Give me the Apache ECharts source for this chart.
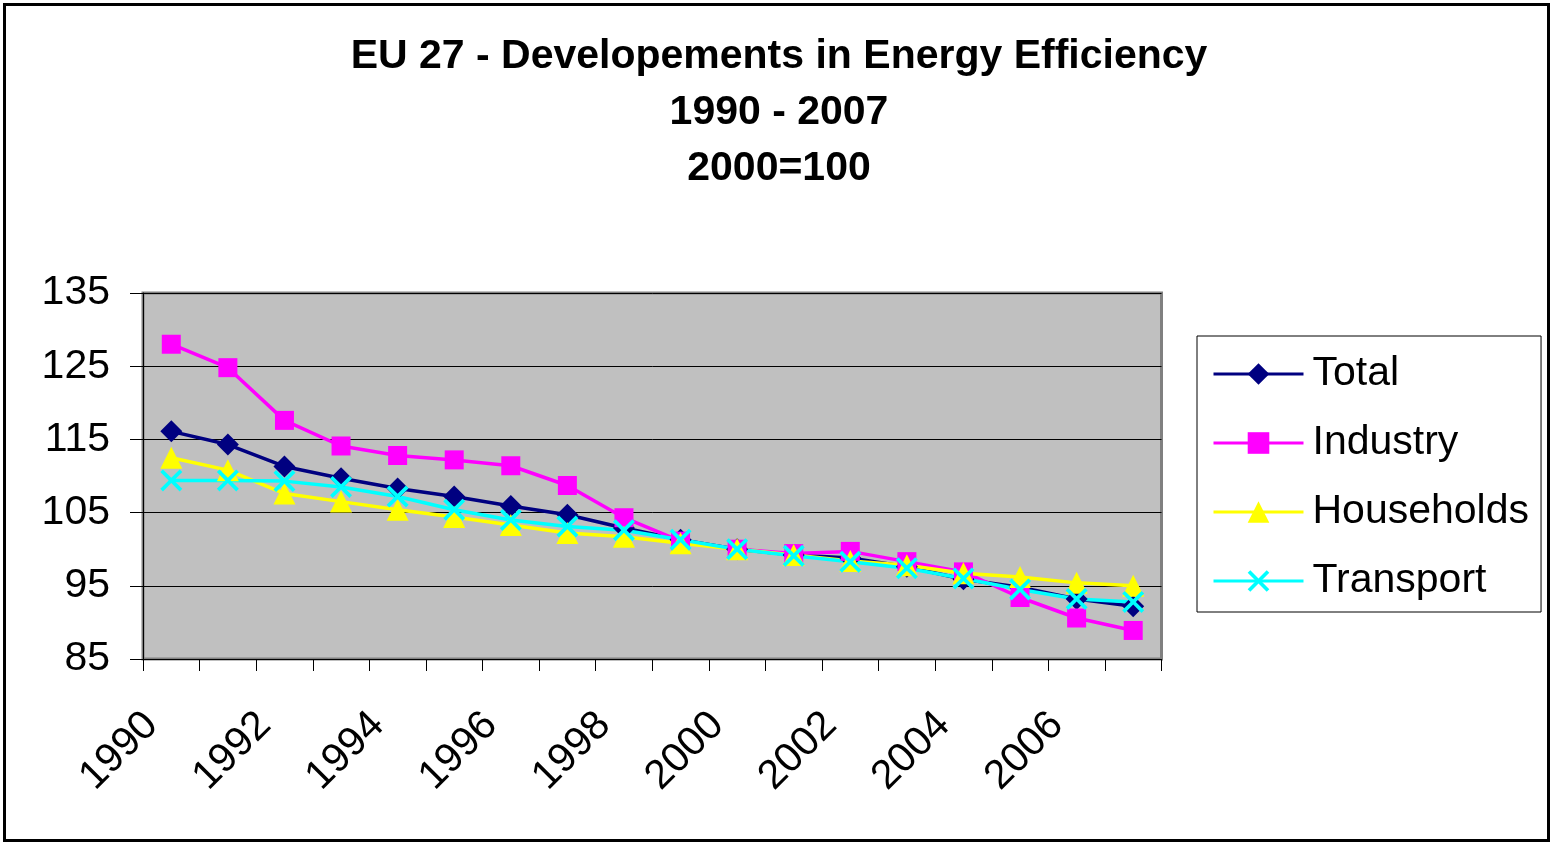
<!DOCTYPE html>
<html>
<head>
<meta charset="utf-8">
<script src="https://cdn.jsdelivr.net/npm/echarts@6/dist/echarts.min.js"></script>
<style>
html,body{margin:0;padding:0;background:#fff;}
#chart{width:1553px;height:843px;}
</style>
</head>
<body>
<div id="chart"></div>
<script>
const years = ['1990','1991','1992','1993','1994','1995','1996','1997','1998','1999','2000','2001','2002','2003','2004','2005','2006','2007'];
const total = [116.1, 114.3, 111.3, 109.7, 108.3, 107.2, 105.9, 104.7, 102.9, 101.3, 100.0, 99.2, 98.8, 97.6, 95.9, 94.8, 93.2, 92.2];
const industry = [128.0, 124.8, 117.6, 114.1, 112.8, 112.2, 111.4, 108.7, 104.3, 101.1, 100.0, 99.4, 99.7, 98.3, 96.9, 93.4, 90.6, 88.9];
const households = [112.5, 110.8, 107.6, 106.5, 105.4, 104.4, 103.3, 102.2, 101.7, 100.8, 100.0, 99.2, 98.4, 97.8, 96.7, 96.2, 95.4, 95.0];
const transport = [109.4, 109.4, 109.3, 108.5, 107.2, 105.4, 104.0, 103.1, 102.6, 101.3, 100.0, 99.1, 98.3, 97.4, 96.0, 94.5, 93.2, 92.8];
const yTicks = [85, 95, 105, 115, 125, 135];

const FONT = "'Liberation Sans', Arial, sans-serif";
const crossPath = 'path://M0,1.2L1.2,0L5,3.8L8.8,0L10,1.2L6.2,5L10,8.8L8.8,10L5,6.2L1.2,10L0,8.8L3.8,5Z';

function mkSeries(name, data, color, symbol, size) {
  return {
    name: name, type: 'line', data: data,
    symbol: symbol, symbolSize: size,
    lineStyle: {color: color, width: 3.5},
    itemStyle: {color: color, borderWidth: 0},
    emphasis: {disabled: true},
    animation: false
  };
}

const chart = echarts.init(document.getElementById('chart'), null, {renderer: 'canvas'});
chart.setOption({
  animation: false,
  backgroundColor: '#ffffff',
  title: {
    text: 'EU 27 - Developements in Energy Efficiency\n1990 - 2007\n2000=100',
    left: 779, top: 29, textAlign: 'center', padding: 0,
    textStyle: {fontFamily: FONT, fontSize: 41, fontWeight: 'bold', color: '#000', lineHeight: 56}
  },
  graphic: [{
    type: 'rect', silent: true, z: 100,
    shape: {x: 4.5, y: 4.5, width: 1544, height: 836},
    style: {fill: 'none', stroke: '#000', lineWidth: 3}
  }],
  legend: {
    orient: 'vertical', left: 1197, top: 336,
    padding: [15, 12, 8, 15],
    itemWidth: 90, itemHeight: 27, itemGap: 23,
    borderColor: '#000', borderWidth: 1,
    backgroundColor: '#fff',
    selectedMode: false,
    lineStyle: {width: 3},
    textStyle: {fontFamily: FONT, fontSize: 41, color: '#000', lineHeight: 46, padding: [0, 0, 0, 4]},
    data: ['Total', 'Industry', 'Households', 'Transport']
  },
  grid: {
    left: 143, right: 391.5, top: 293, bottom: 184,
    show: true, backgroundColor: '#C0C0C0', borderColor: '#808080', borderWidth: 3,
    containLabel: false
  },
  xAxis: {
    type: 'category', data: years, boundaryGap: true,
    axisLine: {lineStyle: {color: '#000', width: 1}},
    axisTick: {show: true, interval: 0, length: 12, inside: false, lineStyle: {color: '#000'}},
    axisLabel: {interval: 1, rotate: 45, margin: 40, padding: [0, 28, 0, 0],
      fontFamily: FONT, fontSize: 41, color: '#000'},
    splitLine: {show: false}
  },
  yAxis: {
    type: 'value', min: yTicks[0], max: yTicks[yTicks.length - 1], interval: 10,
    axisLine: {show: true, lineStyle: {color: '#000', width: 1}},
    axisTick: {show: true, length: 13, lineStyle: {color: '#000'}},
    axisLabel: {margin: 33, fontFamily: FONT, fontSize: 41, color: '#000'},
    splitLine: {show: true, lineStyle: {color: '#000', width: 1}}
  },
  series: [
    mkSeries('Total', total, '#000080', 'diamond', 22),
    mkSeries('Industry', industry, '#FF00FF', 'rect', 19),
    mkSeries('Households', households, '#FFFF00', 'triangle', 22),
    mkSeries('Transport', transport, '#00FFFF', crossPath, 22)
  ]
});
</script>
</body>
</html>
